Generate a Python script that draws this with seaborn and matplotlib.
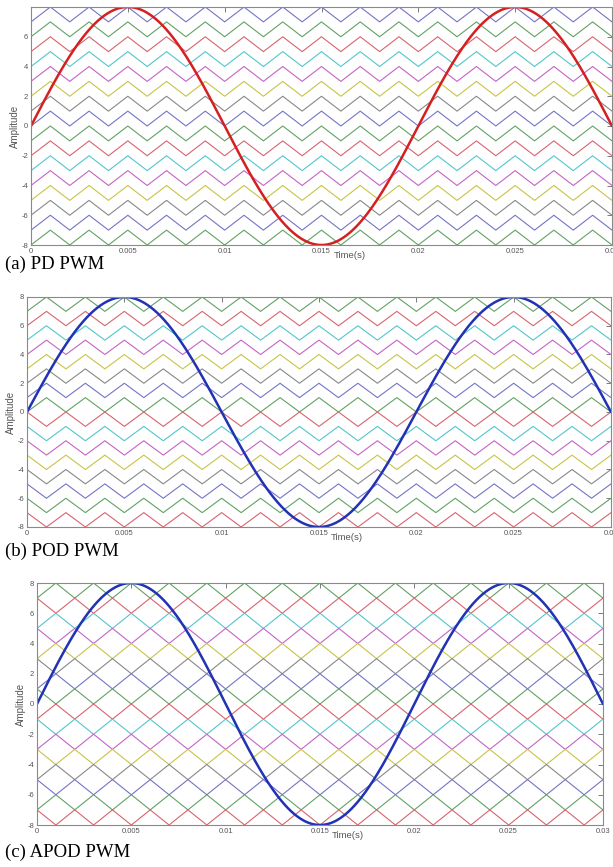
import numpy as np
import pandas as pd
import matplotlib
matplotlib.use("Agg")
import matplotlib.pyplot as plt
import seaborn as sns

# reference sine wave
sine_amp = 8.0
sine_freq = 50.0          # Hz -> peak at 0.005 s
t_end = 0.03

# triangular carriers, 16 bands of height 1, listed top to bottom
carrier_period = 0.002
band_bottoms = [7, 6, 5, 4, 3, 2, 1, 0, -1, -2, -3, -4, -5, -6, -7, -8]

# 1 = carrier is at the bottom of its band at t=0, 0 = at the top
pd_start_low = [1, 1, 1, 1, 1, 1, 1, 1, 1, 1, 1, 1, 1, 1, 1, 1]
pod_start_low = [1, 1, 1, 1, 1, 1, 1, 1, 0, 0, 0, 0, 0, 0, 0, 0]
apod_start_low = [1, 0, 1, 0, 1, 0, 1, 0, 1, 0, 1, 0, 1, 0, 1, 0]

# washed-out matlab line colours
matlab_cols = {"b": "#7474c8", "g": "#62a262", "r": "#d8646e", "c": "#52c6cc",
               "m": "#c464c4", "y": "#c8c446", "k": "#888888"}
pd_colours = list("bgrcmykbgrcmykbg")
pod_colours = list("grcmykbgrcmykbgr")
apod_colours = list("grcmykbgrcmykbgr")

x_ticks = [0, 0.005, 0.01, 0.015, 0.02, 0.025, 0.03]
x_ticklabels = ["0", "0.005", "0.01", "0.015", "0.02", "0.025", "0.03"]
y_ticks = [-8, -6, -4, -2, 0, 2, 4, 6, 8]

panels = [
    # caption, start flags, colours, sine colour, axes box (l, r, top, bottom px), caption y px
    ("(a) PD PWM", pd_start_low, pd_colours, "#d42020", (31, 612, 7, 245), 264, False),
    ("(b) POD PWM", pod_start_low, pod_colours, "#2232b4", (27, 611, 297, 527), 551, True),
    ("(c) APOD PWM", apod_start_low, apod_colours, "#2232b4", (37, 603, 583, 825), 852, True),
]

W, H = 613, 867
sns.set_style("white")
plt.rcParams["font.family"] = ["Liberation Sans", "DejaVu Sans"]

fig = plt.figure(figsize=(W / 100, H / 100), dpi=100)


def carrier_frame(start_low):
    n_half = int(round(t_end / (carrier_period / 2)))
    t_v = np.arange(n_half + 1) * carrier_period / 2
    rows = []
    for i, (bot, low) in enumerate(zip(band_bottoms, start_low)):
        up = np.arange(n_half + 1) % 2
        vals = bot + up if low else bot + 1 - up
        rows.append(pd.DataFrame({"carrier": i, "t": t_v, "v": vals}))
    return pd.concat(rows, ignore_index=True)


ts = np.linspace(0, t_end, 900)
sine = sine_amp * np.sin(2 * np.pi * sine_freq * ts)

for caption, start_low, cols, sine_col, (l, r, top, bot), cap_y, show8 in panels:
    ax = fig.add_axes([l / W, 1 - bot / H, (r - l) / W, (bot - top) / H])
    df = carrier_frame(start_low)
    sns.lineplot(data=df, x="t", y="v", hue="carrier",
                 palette=[matlab_cols[c] for c in cols],
                 estimator=None, sort=False, legend=False, lw=0.8, ax=ax)
    sns.lineplot(x=ts, y=sine, color=sine_col, lw=1.8, ax=ax)

    ax.set_xlim(0, t_end)
    ax.set_ylim(-8, 8)
    ax.set_xticks(x_ticks)
    ax.set_xticklabels(x_ticklabels)
    ax.set_yticks(y_ticks)
    ylab = [str(v) for v in y_ticks]
    if not show8:
        ylab[-1] = ""
    ax.set_yticklabels(ylab)
    ax.tick_params(direction="in", length=3.5, width=0.6, top=True, right=True,
                   colors="#666666", labelcolor="#555555", labelsize=5.5, pad=2)
    for sp in ax.spines.values():
        sp.set_color("#8a8a8a")
        sp.set_linewidth(0.8)
    ax.set_xlabel("")
    ax.set_ylabel("Amplitude", fontsize=7, color="#555555", labelpad=1)
    # matlab put the xlabel right after the 0.015 tick label
    ax.annotate("Time(s)", xy=(0.015, 0), xycoords=("data", "axes fraction"),
                xytext=(8.5, -4.5), textcoords="offset points", ha="left", va="top",
                fontsize=6.8, color="#555555")

    fig.text(5 / W, 1 - cap_y / H, caption, family="Liberation Serif",
             fontsize=13.5, va="center", ha="left", color="black")

fig.savefig("out.png", dpi=100)
